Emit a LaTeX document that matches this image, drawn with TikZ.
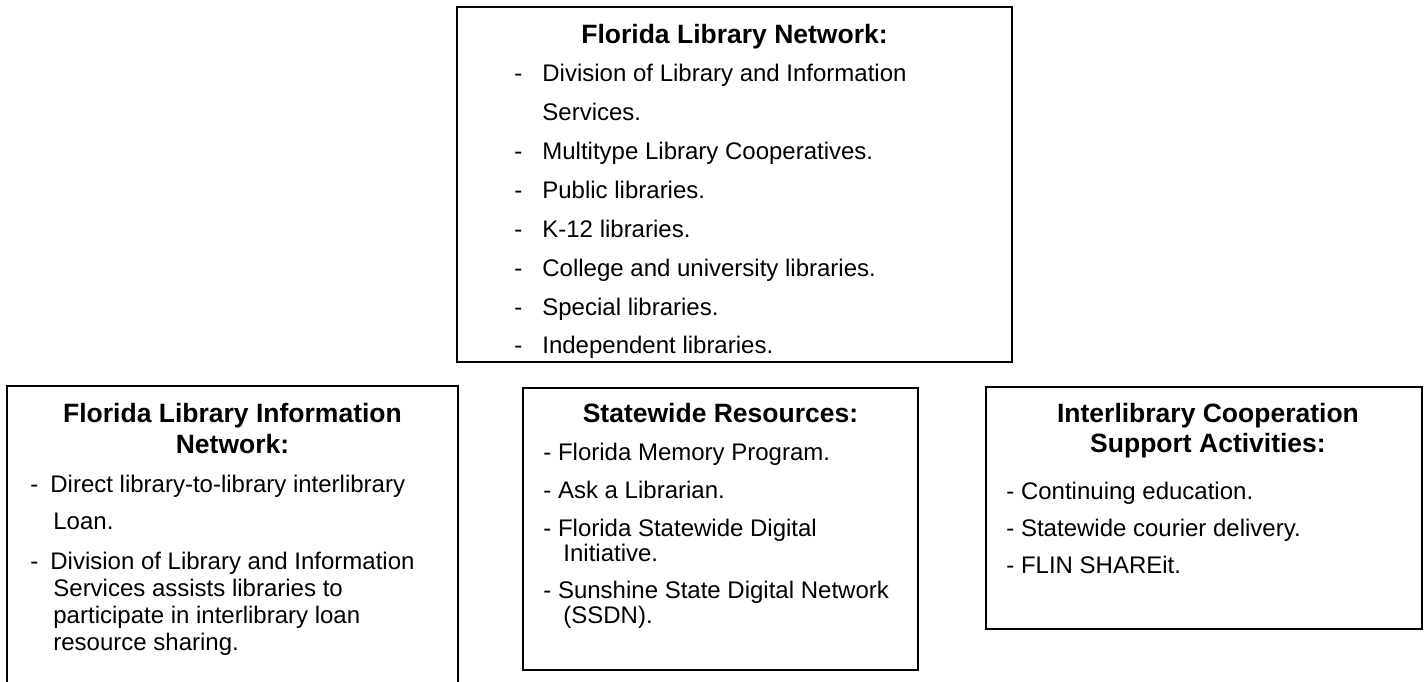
\documentclass[tikz,border=0pt]{standalone}
\usepackage{fontspec}
\setmainfont{Liberation Sans}

\tikzset{
  box/.style={draw=black, line width=1.2pt},
  head/.style={anchor=base, inner sep=0pt, font=\fontsize{13.25}{15}\selectfont\bfseries},
  line/.style={anchor=base west, inner sep=0pt, font=\fontsize{12}{14}\selectfont}
}
\newcommand{\dashto}[2]{\makebox[#1][l]{-}#2}

\begin{document}
\begin{tikzpicture}[line cap=butt,line join=miter,x=0.5pt,y=-0.5pt]
\clip (0,0) rectangle (1424,681);

% the four boxes
\draw[box] (457,7) rectangle (1012,362);
\draw[box] (7,386) rectangle (458,700);
\draw[box] (523,388) rectangle (918,670);
\draw[box] (986,387) rectangle (1422,629);

% Florida Library Network
\node[head] (flnHead) at (734.5,43) {Florida Library Network:};
\node[line] (fln1) at (514,81) {\dashto{14pt}{Division of Library and Information}};
\node[line] (fln2) at (542,120) {Services.};
\node[line] (fln3) at (514,159) {\dashto{14pt}{Multitype Library Cooperatives.}};
\node[line] (fln4) at (514,198) {\dashto{14pt}{Public libraries.}};
\node[line] (fln5) at (514,237) {\dashto{14pt}{K-12 libraries.}};
\node[line] (fln6) at (514,276) {\dashto{14pt}{College and university libraries.}};
\node[line] (fln7) at (514,315) {\dashto{14pt}{Special libraries.}};
\node[line] (fln8) at (514,353) {\dashto{14pt}{Independent libraries.}};

% Florida Library Information Network
\node[head] (flinHeadA) at (232.5,422) {Florida Library Information};
\node[head] (flinHeadB) at (232.5,453) {Network:};
\node[line] (flin1) at (30,492) {\dashto{10pt}{Direct library-to-library interlibrary}};
\node[line] (flin2) at (53,529) {Loan.};
\node[line] (flin3) at (30,569) {\dashto{10pt}{Division of Library and Information}};
\node[line] (flin4) at (53,596) {Services assists libraries to};
\node[line] (flin5) at (53,623) {participate in interlibrary loan};
\node[line] (flin6) at (53,650) {resource sharing.};

% Statewide Resources
\node[head] (swrHead) at (720.5,422) {Statewide Resources:};
\node[line] (swr1) at (543,460) {- Florida Memory Program.};
\node[line] (swr2) at (543,498) {- Ask a Librarian.};
\node[line] (swr3) at (543,536) {- Florida Statewide Digital};
\node[line] (swr4) at (563,561) {Initiative.};
\node[line] (swr5) at (543,598) {- Sunshine State Digital Network};
\node[line] (swr6) at (563,623) {(SSDN).};

% Interlibrary Cooperation Support Activities
\node[head] (icsHeadA) at (1208,422) {Interlibrary Cooperation};
\node[head] (icsHeadB) at (1208,452) {Support Activities:};
\node[line] (ics1) at (1006,499) {- Continuing education.};
\node[line] (ics2) at (1006,536) {- Statewide courier delivery.};
\node[line] (ics3) at (1006,573) {- FLIN SHAREit.};

\end{tikzpicture}
\end{document}
